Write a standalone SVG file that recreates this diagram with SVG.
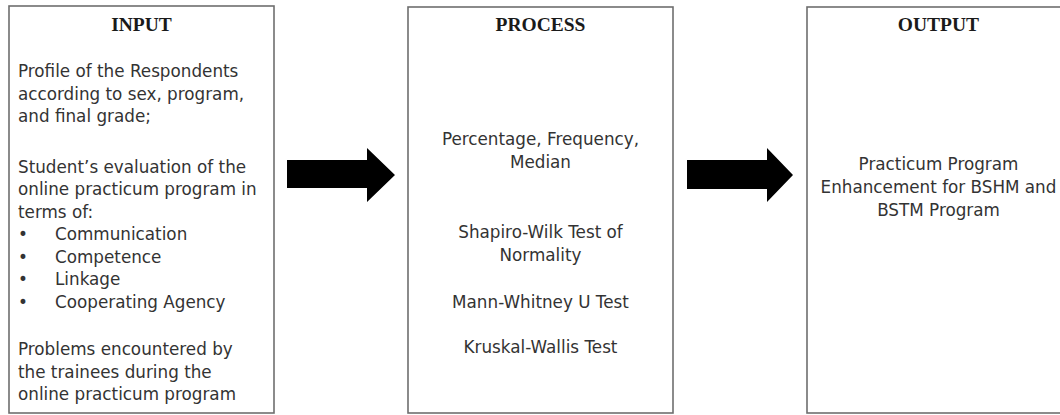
<svg xmlns="http://www.w3.org/2000/svg" width="1060" height="415" viewBox="0 0 1060 415">
<style>
.box{fill:#fff;stroke:#6e6e6e;stroke-width:1.6}
.h{font-family:"Liberation Serif","Times New Roman",serif;font-weight:bold;font-size:19.5px;fill:#1a1a1a;text-anchor:middle}
.t{font-family:"DejaVu Sans",Verdana,sans-serif;font-size:16.8px;fill:#333}
.c{text-anchor:middle}
.arrow{fill:#000}
</style>
<rect width="1060" height="415" fill="#fff"/>
<g id="input">
<rect class="box" x="9" y="6" width="265" height="407"/>
<text class="h" x="141.5" y="31">INPUT</text>
<text class="t" x="18" y="77">Profile of the Respondents</text>
<text class="t" x="18" y="99.5">according to sex, program,</text>
<text class="t" x="18" y="122">and final grade;</text>
<text class="t" x="18" y="172.5">Student’s evaluation of the</text>
<text class="t" x="18" y="195">online practicum program in</text>
<text class="t" x="18" y="217.5">terms of:</text>
<text class="t" x="18" y="240">•</text>
<text class="t" x="55" y="240">Communication</text>
<text class="t" x="18" y="262.5">•</text>
<text class="t" x="55" y="262.5">Competence</text>
<text class="t" x="18" y="285">•</text>
<text class="t" x="55" y="285">Linkage</text>
<text class="t" x="18" y="307.5">•</text>
<text class="t" x="55" y="307.5">Cooperating Agency</text>
<text class="t" x="18" y="355">Problems encountered by</text>
<text class="t" x="18" y="377.5">the trainees during the</text>
<text class="t" x="18" y="400">online practicum program</text>
</g>
<g id="process">
<rect class="box" x="408" y="7" width="265" height="406"/>
<text class="h" x="540.5" y="31">PROCESS</text>
<text class="t c" x="540.5" y="145">Percentage, Frequency,</text>
<text class="t c" x="540.5" y="168">Median</text>
<text class="t c" x="540.5" y="238">Shapiro-Wilk Test of</text>
<text class="t c" x="540.5" y="261">Normality</text>
<text class="t c" x="540.5" y="308">Mann-Whitney U Test</text>
<text class="t c" x="540.5" y="353">Kruskal-Wallis Test</text>
</g>
<g id="output">
<rect class="box" x="807" y="7" width="263" height="406"/>
<text class="h" x="938.5" y="31">OUTPUT</text>
<text class="t c" x="938.5" y="170">Practicum Program</text>
<text class="t c" x="938.5" y="193">Enhancement for BSHM and</text>
<text class="t c" x="938.5" y="216">BSTM Program</text>
</g>
<g id="connectors">
<polygon class="arrow" points="287,160 367,160 367,148 395,175 367,202 367,188 287,188"/>
<polygon class="arrow" points="687,160 767,160 767,148 793,175 767,202 767,189 687,189"/>
</g>
</svg>
